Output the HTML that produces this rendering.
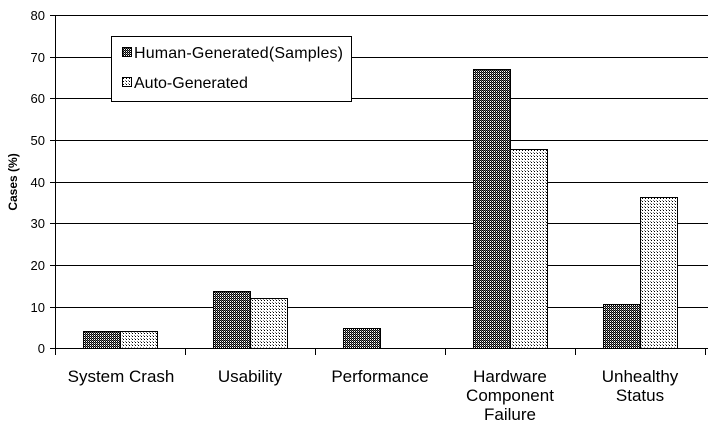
<!DOCTYPE html>
<html><head><style>body{margin:0;background:#fff}svg{display:block}text{font-family:"Liberation Sans",sans-serif;font-size:16px;fill:#000}</style></head>
<body>
<svg width="716" height="432" xmlns="http://www.w3.org/2000/svg" shape-rendering="crispEdges">
<defs>
<pattern id="d" width="2" height="2" patternUnits="userSpaceOnUse"><rect width="2" height="2" fill="#fff"/><rect width="1" height="1" fill="#000"/><rect x="1" y="1" width="1" height="1" fill="#000"/><rect x="1" y="0" width="1" height="1" fill="#666"/></pattern>
<pattern id="l" width="3" height="3" patternUnits="userSpaceOnUse"><rect width="3" height="3" fill="#fff"/><rect width="1" height="1" fill="#000"/><rect x="2" y="2" width="1" height="1" fill="#888"/></pattern>
</defs>
<g stroke="#000" stroke-width="1">
<line x1="55" y1="15.5" x2="708" y2="15.5"/>
<line x1="55" y1="57.5" x2="708" y2="57.5"/>
<line x1="55" y1="98.5" x2="708" y2="98.5"/>
<line x1="55" y1="140.5" x2="708" y2="140.5"/>
<line x1="55" y1="182.5" x2="708" y2="182.5"/>
<line x1="55" y1="223.5" x2="708" y2="223.5"/>
<line x1="55" y1="265.5" x2="708" y2="265.5"/>
<line x1="55" y1="307.5" x2="708" y2="307.5"/>
<line x1="50" y1="348.5" x2="708" y2="348.5"/>
<line x1="55.5" y1="15" x2="55.5" y2="355"/>
<line x1="185.5" y1="348" x2="185.5" y2="355"/>
<line x1="315.5" y1="348" x2="315.5" y2="355"/>
<line x1="445.5" y1="348" x2="445.5" y2="355"/>
<line x1="575.5" y1="348" x2="575.5" y2="355"/>
<line x1="705.5" y1="348" x2="705.5" y2="355"/>
<line x1="50" y1="15.5" x2="55" y2="15.5"/><line x1="50" y1="57.5" x2="55" y2="57.5"/><line x1="50" y1="98.5" x2="55" y2="98.5"/><line x1="50" y1="140.5" x2="55" y2="140.5"/><line x1="50" y1="182.5" x2="55" y2="182.5"/><line x1="50" y1="223.5" x2="55" y2="223.5"/><line x1="50" y1="265.5" x2="55" y2="265.5"/><line x1="50" y1="307.5" x2="55" y2="307.5"/>
</g>
<g stroke="#000" stroke-width="1">
<rect x="83.5" y="331.5" width="37" height="17" fill="url(#d)"/>
<rect x="120.5" y="331.5" width="37" height="17" fill="url(#l)"/>
<rect x="213.5" y="291.5" width="37" height="57" fill="url(#d)"/>
<rect x="250.5" y="298.5" width="37" height="50" fill="url(#l)"/>
<rect x="343.5" y="328.5" width="37" height="20" fill="url(#d)"/>
<rect x="473.5" y="69.5" width="37" height="279" fill="url(#d)"/>
<rect x="510.5" y="149.5" width="37" height="199" fill="url(#l)"/>
<rect x="603.5" y="304.5" width="37" height="44" fill="url(#d)"/>
<rect x="640.5" y="197.5" width="37" height="151" fill="url(#l)"/>
<rect x="111.5" y="36.5" width="240" height="65" fill="#fff"/>
<rect x="122.5" y="47.5" width="9" height="9" fill="url(#d)"/>
<rect x="122.5" y="77.5" width="9" height="9" fill="url(#l)"/>
</g>
<text x="134" y="58" textLength="209">Human-Generated(Samples)</text>
<text x="134" y="88">Auto-Generated</text>
<g text-anchor="end">
<text x="45" y="20" style="font-size:13px">80</text><text x="45" y="62" style="font-size:13px">70</text><text x="45" y="103" style="font-size:13px">60</text><text x="45" y="145" style="font-size:13px">50</text><text x="45" y="187" style="font-size:13px">40</text><text x="45" y="228" style="font-size:13px">30</text><text x="45" y="270" style="font-size:13px">20</text><text x="45" y="312" style="font-size:13px">10</text><text x="45" y="353" style="font-size:13px">0</text>
</g>
<text transform="translate(17,182) rotate(-90)" text-anchor="middle" style="font-size:12px;font-weight:bold">Cases (%)</text>
<g text-anchor="middle" style="font-size:17px">
<text x="121" y="382" style="font-size:17px">System Crash</text>
<text x="250" y="382" style="font-size:17px">Usability</text>
<text x="380" y="382" style="font-size:17px">Performance</text>
<text x="510" y="382" style="font-size:17px">Hardware</text>
<text x="510" y="401" style="font-size:17px">Component</text>
<text x="510" y="420" style="font-size:17px">Failure</text>
<text x="640" y="382" style="font-size:17px">Unhealthy</text>
<text x="640" y="401" style="font-size:17px">Status</text>
</g>
</svg>
</body></html>
